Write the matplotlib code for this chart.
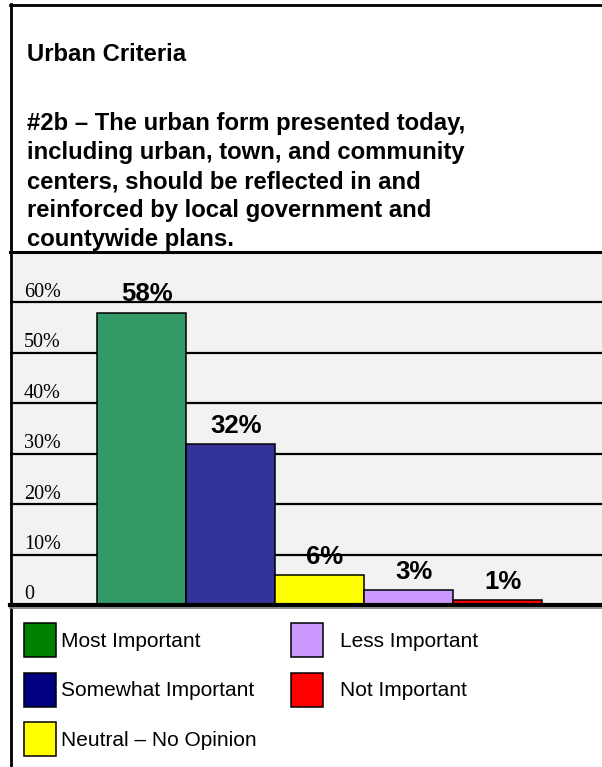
import matplotlib
matplotlib.use("Agg")
import matplotlib.pyplot as plt
from matplotlib.patches import Patch
from matplotlib.lines import Line2D
from matplotlib.transforms import blended_transform_factory, offset_copy

# ---- content -------------------------------------------------------------
heading = "Urban Criteria"
question_lines = [
    "#2b \u2013 The urban form presented today,",
    "including urban, town, and community",
    "centers, should be reflected in and",
    "reinforced by local government and",
    "countywide plans.",
]
categories = ["Most Important", "Somewhat Important", "Neutral \u2013 No Opinion",
              "Less Important", "Not Important"]
shares = [58, 32, 6, 3, 1]
bar_colors = ["#339966", "#333399", "#ffff00", "#cc99ff", "#ff0000"]
legend_colors = ["#008000", "#000080", "#ffff00", "#cc99ff", "#ff0000"]
y_ticks = [0, 10, 20, 30, 40, 50, 60]
y_tick_labels = ["0", "10%", "20%", "30%", "40%", "50%", "60%"]

# ---- page geometry (pixels) ----------------------------------------------
W, H, DPI = 602, 767, 100
SANS = "Liberation Sans"
SERIF = "Liberation Serif"


def fx(px):
    return px / W


def fy(py):
    return 1 - py / H


fig = plt.figure(figsize=(W / DPI, H / DPI), dpi=DPI)
fig.patch.set_facecolor("white")

# ---- chart panel ---------------------------------------------------------
ax_top, ax_bottom = 252, 605
ax = fig.add_axes([fx(10), fy(ax_bottom), 1 - fx(10), (ax_bottom - ax_top) / H])
ax.set_facecolor("#f2f2f2")

positions = list(range(len(shares)))
ax.bar(positions, shares, width=1.0, color=bar_colors, edgecolor="black",
       linewidth=1.1, zorder=3)
ax.set_ylim(0, 70)
ax.set_xlim(-1.4775, 5.174)

ax.set_yticks(y_ticks)
ax.set_xticks([])
ax.yaxis.grid(True, color="black", linewidth=1.6)
ax.set_axisbelow(True)
ax.tick_params(left=False, labelleft=False, bottom=False, labelbottom=False)
for side in ("top", "left", "right"):
    ax.spines[side].set_visible(False)
ax.spines["bottom"].set_linewidth(3.0)
ax.spines["bottom"].set_color("black")
ax.spines["bottom"].set_zorder(4)

# y labels sit just above their gridlines, inside the panel
lab_tr = offset_copy(blended_transform_factory(ax.transAxes, ax.transData),
                     fig=fig, x=0, y=4, units="points")
for val, txt in zip(y_ticks, y_tick_labels):
    ax.text(fx(24 - 10) / (1 - fx(10)), val, txt, transform=lab_tr,
            ha="left", va="baseline", fontsize=14.5, family=SERIF, color="black")

# value labels above each bar
for pos, val in zip(positions, shares):
    ax.annotate(f"{val}%", (pos, val), xytext=(4, 8), textcoords="offset points",
                ha="center", va="baseline", fontsize=18.5, fontweight="bold",
                family=SANS, color="black", zorder=5)

# ---- heading -------------------------------------------------------------
fig.text(fx(27), fy(61), heading, fontsize=17.2, fontweight="bold",
         family=SANS, va="baseline", ha="left")
for i, line in enumerate(question_lines):
    fig.text(fx(27), fy(130 + 29 * i), line, fontsize=17.2, fontweight="bold",
             family=SANS, va="baseline", ha="left")

# ---- frame lines ---------------------------------------------------------
frame = [
    ([fx(10.5), fx(10.5)], [fy(4), 0.0], 2.0, "black"),     # left edge
    ([fx(9.5), 1.0], [fy(5), fy(5)], 2.0, "black"),          # top edge
    ([fx(10), 1.0], [fy(252), fy(252)], 2.2, "black"),       # heading / chart divider
    ([fx(10), 1.0], [fy(607.8), fy(607.8)], 1.3, "#7f7f7f"), # shadow under the baseline
]
for xs, ys, lw, col in frame:
    fig.add_artist(Line2D(xs, ys, transform=fig.transFigure, color=col,
                          linewidth=lw, zorder=3))

# ---- legend (two columns) ------------------------------------------------
handles = [Patch(facecolor=c, edgecolor="black", linewidth=1.1) for c in legend_colors]
fs = 15
fs_px = fs * DPI / 72
box_h = 34 / fs_px                      # visible swatch height, in font units
common = dict(frameon=False, prop={"family": SANS, "size": fs},
              handlelength=32 / fs_px, handleheight=(box_h - 0.245) / 0.65,
              labelspacing=(49.5 - 34) / fs_px, borderpad=0, borderaxespad=0,
              loc="upper left", bbox_transform=fig.transFigure)
leg1 = fig.legend(handles[:3], categories[:3], bbox_to_anchor=(fx(24), fy(623)),
                  handletextpad=5 / fs_px, **common)
leg2 = fig.legend(handles[3:], categories[3:], bbox_to_anchor=(fx(291), fy(623)),
                  handletextpad=17 / fs_px, **common)

fig.savefig("out.png", dpi=DPI, facecolor="white")
